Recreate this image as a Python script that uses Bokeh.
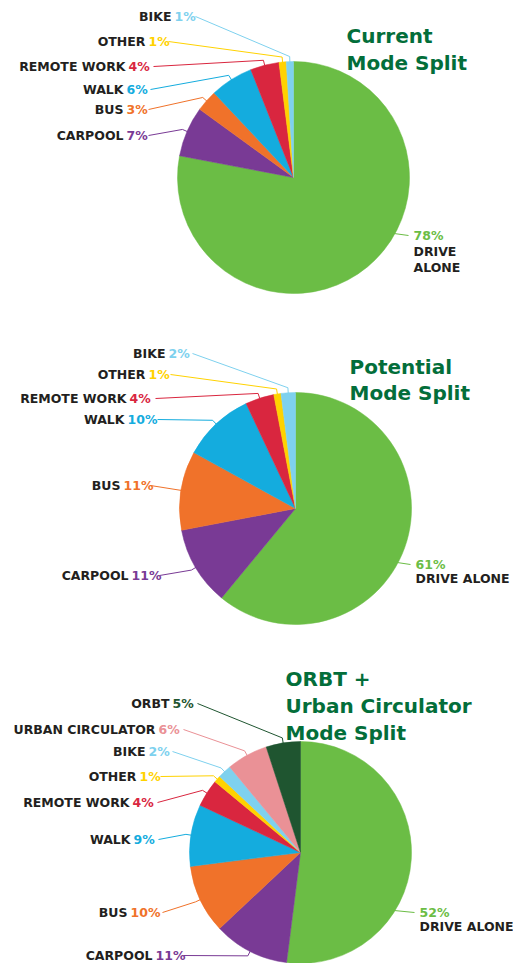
import math
from bokeh.plotting import figure
from bokeh.models import Range1d, ColumnDataSource
from bokeh.embed import file_html
from bokeh.resources import INLINE
from bokeh.core.properties import value

# ---------------- data ----------------
base_modes = ["DRIVE ALONE", "CARPOOL", "BUS", "WALK", "REMOTE WORK", "OTHER", "BIKE"]
current_values = [78, 7, 3, 6, 4, 1, 1]
potential_values = [61, 11, 11, 10, 4, 1, 2]
orbt_modes = ["DRIVE ALONE", "CARPOOL", "BUS", "WALK", "REMOTE WORK", "OTHER", "BIKE",
              "URBAN CIRCULATOR", "ORBT"]
orbt_values = [52, 11, 10, 9, 4, 1, 2, 6, 5]
titles = [["Current", "Mode Split"],
          ["Potential", "Mode Split"],
          ["ORBT +", "Urban Circulator", "Mode Split"]]

# ---------------- style ----------------
COLORS = {
    "DRIVE ALONE": "#6BBD45",
    "CARPOOL": "#793A95",
    "BUS": "#F0722A",
    "WALK": "#14ACDE",
    "REMOTE WORK": "#D9263F",
    "OTHER": "#FFD200",
    "BIKE": "#7ED1EE",
    "URBAN CIRCULATOR": "#EA9196",
    "ORBT": "#1F5530",
}
TITLE_COLOR = "#036E3A"
NAME_COLOR = "#231F20"
FONT = value("DejaVu Sans")
LABEL_SIZE = "12.5px"
TITLE_SIZE = "20px"

# ---------------- layout (picture pixel coordinates, y downwards) ----------------
W, H = 513, 963


def Y(py):
    return H - py


charts = [
    dict(modes=base_modes, values=current_values, title=titles[0],
         cx=293, cy=177, r=116, title_x=346, title_base=[35, 62],
         labels={"BIKE": (174, 195, 16), "OTHER": (148, 168, 41),
                 "REMOTE WORK": (128, 153, 66), "WALK": (126, 150, 89),
                 "BUS": (126, 148, 109), "CARPOOL": (126, 148, 135)},
         drive=(413, 235), drive_split=True),
    dict(modes=base_modes, values=potential_values, title=titles[1],
         cx=295, cy=508, r=116, title_x=349, title_base=[366, 392],
         labels={"BIKE": (168, 192, 353), "OTHER": (148, 170, 374),
                 "REMOTE WORK": (129, 155, 398), "WALK": (127, 157, 419),
                 "BUS": (123, 150, 485), "CARPOOL": (131, 159, 575)},
         drive=(415, 564), drive_split=False),
    dict(modes=orbt_modes, values=orbt_values, title=titles[2],
         cx=300, cy=852, r=111, title_x=285, title_base=[678, 705, 732],
         labels={"ORBT": (172, 197, 703), "URBAN CIRCULATOR": (158, 183, 729),
                 "BIKE": (148, 172, 751), "OTHER": (139, 160, 776),
                 "REMOTE WORK": (132, 157, 802), "WALK": (133, 158, 839),
                 "BUS": (130, 162, 912), "CARPOOL": (155, 183, 955)},
         drive=(419, 912), drive_split=False),
]

p = figure(width=W, height=H, x_range=Range1d(0, W), y_range=Range1d(0, H),
           output_backend="svg", toolbar_location=None, min_border=0)
p.xaxis.visible = False
p.yaxis.visible = False
p.grid.visible = False
p.outline_line_color = None
p.background_fill_color = "white"
p.border_fill_color = "white"

for ch in charts:
    modes, vals = ch["modes"], ch["values"]
    cx, cy, r = ch["cx"], Y(ch["cy"]), ch["r"]
    total = float(sum(vals))
    cum = 0.0
    starts, ends, cols, mids = [], [], [], []
    for m, v in zip(modes, vals):
        a0 = math.pi / 2 - 2 * math.pi * (cum + v) / total
        a1 = math.pi / 2 - 2 * math.pi * cum / total
        starts.append(a0)
        ends.append(a1)
        mids.append((a0 + a1) / 2)
        cols.append(COLORS[m])
        cum += v
    n = len(modes)
    src = ColumnDataSource(dict(x=[cx] * n, y=[cy] * n, s=starts, e=ends, c=cols))
    p.wedge(x="x", y="y", radius=r, start_angle="s", end_angle="e", fill_color="c",
            line_color="c", line_width=0.5, source=src)

    # labels on the left
    nx, ny, nt, px, pt, pc = [], [], [], [], [], []
    lxs, lys, lcs = [], [], []
    for m, v, mid in zip(modes, vals, mids):
        if m == "DRIVE ALONE":
            continue
        pct_x, line_x, ly = ch["labels"][m]
        nx.append(pct_x - 3)
        ny.append(Y(ly))
        nt.append(m)
        px.append(pct_x)
        pt.append(f"{v}%")
        pc.append(COLORS[m])
        ex, ey = cx + (r - 1) * math.cos(mid), cy + (r - 1) * math.sin(mid)
        bx, by = cx + (r + 5) * math.cos(mid), cy + (r + 5) * math.sin(mid)
        lxs.append([line_x, bx, ex])
        lys.append([Y(ly), by, ey])
        lcs.append(COLORS[m])
    p.multi_line(xs=lxs, ys=lys, line_color=lcs, line_width=1)
    p.text(x=nx, y=ny, text=nt, text_font=FONT, text_font_style="bold",
           text_font_size=LABEL_SIZE, text_color=NAME_COLOR, text_align="right",
           text_baseline="middle")
    p.text(x=px, y=ny, text=pt, text_font=FONT, text_font_style="bold",
           text_font_size=LABEL_SIZE, text_color=pc, text_align="left",
           text_baseline="middle")

    # drive alone label on the right
    di = modes.index("DRIVE ALONE")
    dx, dy = ch["drive"]
    dyy = Y(dy) + 2
    circ_x = cx + math.sqrt(r * r - (dyy - cy) ** 2) - 1
    p.line(x=[circ_x, dx - 5], y=[dyy, Y(dy)], line_color=COLORS["DRIVE ALONE"], line_width=1)
    p.text(x=[dx], y=[Y(dy)], text=[f"{vals[di]}%"], text_font=FONT, text_font_style="bold",
           text_font_size=LABEL_SIZE, text_color=COLORS["DRIVE ALONE"], text_align="left",
           text_baseline="middle")
    name_lines = modes[di].split(" ") if ch["drive_split"] else [modes[di]]
    step = 16 if ch["drive_split"] else 14
    p.text(x=[dx] * len(name_lines), y=[Y(dy + step * (k + 1)) for k in range(len(name_lines))],
           text=name_lines, text_font=FONT, text_font_style="bold",
           text_font_size=LABEL_SIZE, text_color=NAME_COLOR, text_align="left",
           text_baseline="middle")

    # title
    p.text(x=[ch["title_x"]] * len(ch["title"]), y=[Y(b) for b in ch["title_base"]],
           text=ch["title"], text_font=FONT, text_font_style="bold",
           text_font_size=TITLE_SIZE, text_color=TITLE_COLOR, text_align="left",
           text_baseline="alphabetic")

open("out.html", "w").write(file_html(p, INLINE))
